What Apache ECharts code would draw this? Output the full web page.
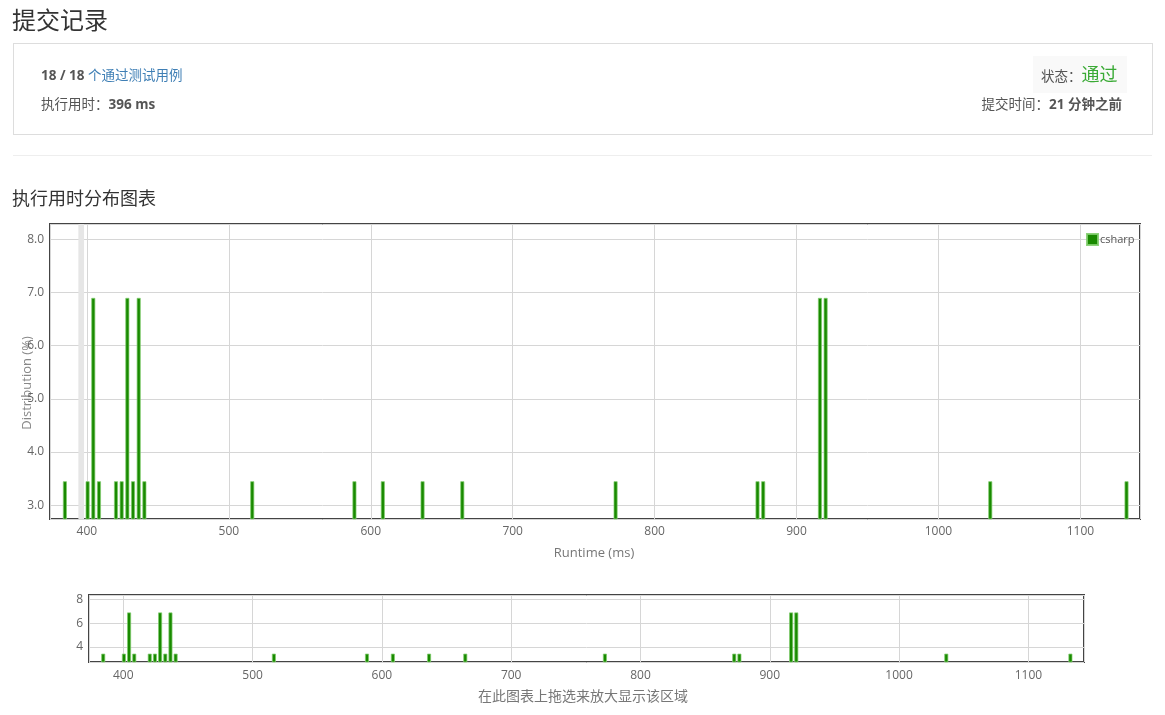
<!DOCTYPE html>
<html>
<head>
<meta charset="utf-8">
<script src="https://cdn.jsdelivr.net/npm/echarts@6/dist/echarts.min.js"></script>
<style>
  html, body { margin: 0; padding: 0; background: #fff; }
  body { width: 1165px; height: 715px; position: relative; overflow: hidden;
         font-family: "Open Sans", "Noto Sans CJK SC", sans-serif; color: #555; }
  #chart { position: absolute; left: 0; top: 0; width: 1165px; height: 715px; }
  .abs { position: absolute; white-space: nowrap; }
  #title { left: 12px; top: 3px; font-size: 24px; color: #333; line-height: 34px; }
  #box { left: 13px; top: 43px; width: 1138px; height: 90px; border: 1px solid #ddd; box-sizing: content-box; }
  #pass { left: 41px; top: 66px; font-size: 13.5px; line-height: 18px; }
  #pass b { color: #555; }
  #pass span { color: #3f7fb5; }
  #runtime { left: 41px; top: 95px; font-size: 13.5px; line-height: 18px; }
  #statusbox { left: 1033px; top: 56px; width: 94px; height: 37px; background: #f9f9f9; }
  #status { left: 1041px; top: 61px; font-size: 13.5px; line-height: 26px; }
  #status span { color: #3aaa35; font-size: 18px; }
  #subtime { right: 43px; top: 95px; font-size: 13.5px; line-height: 18px; }
  #hr { left: 13px; top: 155px; width: 1139px; height: 1px; background: #eee; }
  #subtitle { left: 12px; top: 185px; font-size: 18px; color: #333; line-height: 26px; }
</style>
</head>
<body>
<div id="chart"></div>
<div class="abs" id="title">提交记录</div>
<div class="abs" id="box"></div>
<div class="abs" id="pass"><b>18 / 18</b> <span>个通过测试用例</span></div>
<div class="abs" id="runtime">执行用时：<b>396 ms</b></div>
<div class="abs" id="statusbox"></div>
<div class="abs" id="status">状态：<span>通过</span></div>
<div class="abs" id="subtime">提交时间：<b>21 分钟之前</b></div>
<div class="abs" id="hr"></div>
<div class="abs" id="subtitle">执行用时分布图表</div>
<script>
// ---- data ----
const seriesName = 'csharp';
const runtimes = [384.5, 400.5, 404.5, 408.5, 420.5, 424.5, 428.5, 432.5, 436.5, 440.5,
                  516.5, 588.5, 608.5, 636.5, 664.5, 772.5, 872.5, 876.5, 916.5, 920.5,
                  1036.5, 1132.5];
const distribution = [3.45, 3.45, 6.9, 3.45, 3.45, 3.45, 6.9, 3.45, 6.9, 3.45,
                      3.45, 3.45, 3.45, 3.45, 3.45, 3.45, 3.45, 3.45, 6.9, 6.9,
                      3.45, 3.45];
const myRuntimeBand = [394, 398];
const xAxisName = 'Runtime (ms)';
const yAxisName = 'Distribution (%)';
const zoomHint = '在此图表上拖选来放大显示该区域';

const points = runtimes.map((r, i) => [r, distribution[i]]);

const FONT = '"Open Sans", "Noto Sans CJK SC", sans-serif';
const barStyle = { color: '#198a00', borderColor: 'rgba(130,205,110,0.9)', borderWidth: 0.8 };
const gridLine = { lineStyle: { color: '#d6d6d6', width: 1 } };
const plainNum = v => String(Math.round(v));

const chart = echarts.init(document.getElementById('chart'), null, { renderer: 'canvas' });
chart.setOption({
  animation: false,
  textStyle: { fontFamily: FONT },
  legend: {
    data: [seriesName], left: 1086, top: 233, icon: 'rect',
    itemWidth: 11, itemHeight: 11, itemGap: 2, padding: 0,
    textStyle: { fontSize: 11, color: '#555', fontFamily: FONT, padding: [0, 0, 0, -3] }
  },
  grid: [
    { left: 50, top: 224, width: 1090, height: 295, show: true, borderColor: '#444', borderWidth: 2, backgroundColor: 'transparent' },
    { left: 89, top: 595, width: 995, height: 67, show: true, borderColor: '#444', borderWidth: 2, backgroundColor: 'transparent' }
  ],
  xAxis: [
    { type: 'value', gridIndex: 0, min: 374, max: 1142, splitNumber: 8,
      axisLine: { show: false }, axisTick: { show: false },
      axisLabel: { color: '#666', fontSize: 12, margin: 7, showMinLabel: false, showMaxLabel: false, fontFamily: FONT, formatter: plainNum },
      splitLine: gridLine },
    { type: 'value', gridIndex: 1, min: 373.5, max: 1143, splitNumber: 8,
      axisLine: { show: false }, axisTick: { show: false },
      axisLabel: { color: '#666', fontSize: 12, margin: 8, showMinLabel: false, showMaxLabel: false, fontFamily: FONT, formatter: plainNum },
      splitLine: gridLine }
  ],
  yAxis: [
    { type: 'value', gridIndex: 0, min: 2.74, max: 8.29, splitNumber: 5,
      axisLine: { show: false }, axisTick: { show: false },
      axisLabel: { color: '#666', fontSize: 12, margin: 6, showMinLabel: false, showMaxLabel: false, fontFamily: FONT,
                   formatter: v => (Math.abs(v - Math.round(v)) < 1e-6 ? v.toFixed(1) : '') },
      splitLine: gridLine },
    { type: 'value', gridIndex: 1, min: 2.75, max: 8.36, splitNumber: 3,
      axisLine: { show: false }, axisTick: { show: false },
      axisLabel: { color: '#666', fontSize: 12, margin: 6, showMinLabel: false, showMaxLabel: false, fontFamily: FONT,
                   formatter: v => (Math.abs(v - Math.round(v)) < 1e-6 ? String(Math.round(v)) : '') },
      splitLine: gridLine }
  ],
  series: [
    { name: seriesName, type: 'bar', xAxisIndex: 0, yAxisIndex: 0, data: points,
      barWidth: 4, itemStyle: barStyle, clip: true,
      markArea: { silent: true, itemStyle: { color: '#e6e6e6' },
                  data: [[{ xAxis: myRuntimeBand[0] }, { xAxis: myRuntimeBand[1] }]] } },
    { name: seriesName, type: 'bar', xAxisIndex: 1, yAxisIndex: 1, data: points,
      barWidth: 4, itemStyle: barStyle, clip: true }
  ],
  graphic: [
    { type: 'text', x: 27, y: 383, rotation: Math.PI / 2,
      style: { text: yAxisName, fill: '#888', font: '13px ' + FONT, textAlign: 'center', textVerticalAlign: 'middle' } },
    { type: 'text', x: 594, y: 553,
      style: { text: xAxisName, fill: '#777', font: '13px ' + FONT, textAlign: 'center', textVerticalAlign: 'middle' } },
    { type: 'text', x: 583, y: 697,
      style: { text: zoomHint, fill: '#777', font: '14px ' + FONT, textAlign: 'center', textVerticalAlign: 'middle' } }
  ]
});
</script>
</body>
</html>
